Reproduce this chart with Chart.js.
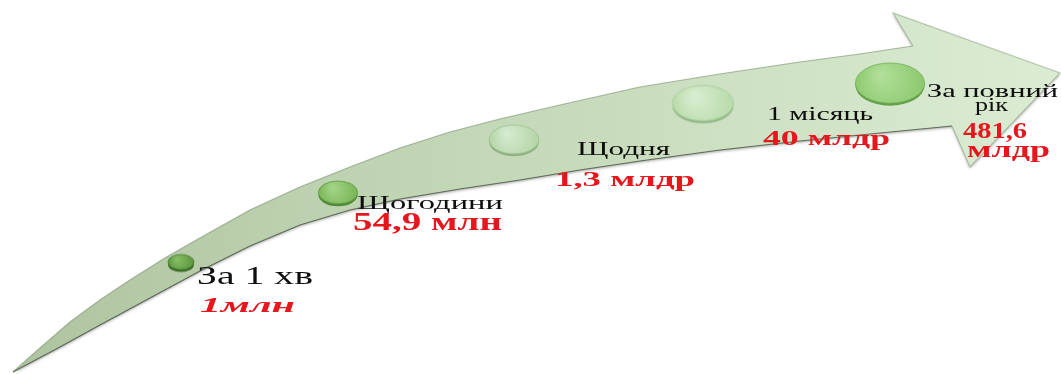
<!DOCTYPE html>
<html lang="uk">
<head>
<meta charset="utf-8">
<title>Обсяги</title>
<script src="https://cdn.jsdelivr.net/npm/chart.js@4.4.1/dist/chart.umd.min.js"></script>
<style>
  html, body { margin: 0; padding: 0; background: #fff; }
  #wrap { position: relative; width: 1061px; height: 374px; }
</style>
</head>
<body>
<div id="wrap"><canvas id="growthChart"></canvas></div>
<script>
// --- Data ---
const stepNames = ['За 1 хв', 'Щогодини', 'Щодня', '1 місяць', ['За повний', 'рік']];
const stepAmounts = ['1млн', '54,9 млн', '1,3 млдр', '40 млдр', ['481,6', 'млдр']];
const amountMln = [1, 54.9, 1300, 40000, 481600];
const stepX = [181, 338, 514, 703, 890];
const stepY = [264, 194, 141, 105, 85];

// arrow outline in chart units (x 0..1061, y 0..374 counted from the top)
const arrowUpper = [[13,372],[40,348],[70,322],[100,300],[130,280],[165,258],[200,238],[250,210],[300,187],[350,167],[400,148],[450,132],[500,119],[560,105],[640,87],[720,74],[800,62],[860,54],[913,46]];
const arrowHead = [[893,13],[1060,73],[970,167]];
const arrowLower = [[952,126],[880,133],[800,141],[720,150],[640,161],[580,170],[520,180],[460,189],[400,199],[350,210],[300,225],[250,246],[200,271],[150,298],[100,325],[60,347],[13,372]];

// --- Styles ---
// text placement relative to each disc: [dx, dy(baseline), width] per line
const nameLayout = [[[16,20,116]], [[19,15,146]], [[63,14,93]], [[64,15,106]], [[37,12,131],[85,26,33]]];
const amountLayout = [[[19,48,95]], [[15,36,149]], [[41,45,140]], [[60,40,127]], [[73,53,64],[77,72,83]]];
const nameFonts = ['25px "Liberation Serif"', '18px "Liberation Serif"', '18px "Liberation Serif"', '18px "Liberation Serif"', '19px "Liberation Serif"'];
const amountFonts = ['italic bold 22px "Liberation Serif"', 'bold 25px "Liberation Serif"', 'bold 22px "Liberation Serif"', 'bold 21px "Liberation Serif"', 'bold 23px "Liberation Serif"'];
const discColors = [
    { face: '#5a963c', light: '#86bd66', rim: '#3a6a26', edge: '#4a7f30' },
    { face: '#78b456', light: '#a3d486', rim: '#4f8a38', edge: '#629c45' },
    { face: '#b4d4a6', light: '#d6ead0', rim: '#8fb281', edge: '#9fc292' },
    { face: '#b8daa9', light: '#d9eed2', rim: '#90b884', edge: '#a3c897' },
    { face: '#8cc86e', light: '#b2e09a', rim: '#62a04a', edge: '#74b05a' }
];

// disc radius grows with the logarithm of the amount
function discRadius(v) {
    return 13 + 3.8 * Math.log10(v);
}

function makeDisc(rx, ry, c) {
    const pad = 4;
    const cv = document.createElement('canvas');
    cv.width = Math.ceil(rx * 2 + pad * 2);
    cv.height = Math.ceil(ry * 2 + pad * 2 + 3);
    const g = cv.getContext('2d');
    const cx = cv.width / 2, cy = pad + ry;
    // thickness of the disc
    g.fillStyle = c.rim;
    g.beginPath(); g.ellipse(cx, cy + 2.5, rx, ry, 0, 0, Math.PI * 2); g.fill();
    // top face
    const grad = g.createRadialGradient(cx - rx * 0.3, cy - ry * 0.45, 1, cx, cy, rx);
    grad.addColorStop(0, c.light);
    grad.addColorStop(1, c.face);
    g.fillStyle = grad;
    g.beginPath(); g.ellipse(cx, cy, rx, ry, 0, 0, Math.PI * 2); g.fill();
    g.strokeStyle = c.edge; g.lineWidth = 0.8; g.stroke();
    return cv;
}

const discs = amountMln.map((v, i) => {
    const rx = discRadius(v);
    return makeDisc(rx, rx * 0.58, discColors[i]);
});

// --- Plugins ---
const arrowFill = {
    id: 'arrowFill',
    beforeDatasetsDraw(chart) {
        const pts = chart.getDatasetMeta(0).data;
        const { ctx, chartArea } = chart;
        const grad = ctx.createLinearGradient(chartArea.left, 0, chartArea.right, 0);
        grad.addColorStop(0, '#aec4a0');
        grad.addColorStop(0.45, '#c3d8b7');
        grad.addColorStop(1, '#dbecd3');
        ctx.save();
        ctx.beginPath();
        pts.forEach((p, i) => i ? ctx.lineTo(p.x, p.y) : ctx.moveTo(p.x, p.y));
        ctx.closePath();
        ctx.shadowColor = 'rgba(60,70,55,0.45)';
        ctx.shadowBlur = 3;
        ctx.shadowOffsetY = 1.5;
        ctx.fillStyle = grad;
        ctx.fill();
        ctx.restore();
    }
};

function drawLines(ctx, pt, text, layout, font, color) {
    const lines = Array.isArray(text) ? text : [text];
    ctx.save();
    ctx.font = font;
    ctx.fillStyle = color;
    ctx.textAlign = 'left';
    ctx.textBaseline = 'alphabetic';
    lines.forEach((line, k) => {
        const [dx, dy, w] = layout[k];
        const sx = w / ctx.measureText(line).width;
        ctx.save();
        ctx.translate(pt.x + dx, pt.y + dy);
        ctx.scale(sx, 1);
        ctx.fillText(line, 0, 0);
        ctx.restore();
    });
    ctx.restore();
}

const stepLabels = {
    id: 'stepLabels',
    afterDatasetsDraw(chart) {
        const ctx = chart.ctx;
        chart.getDatasetMeta(1).data.forEach((pt, i) => {
            drawLines(ctx, pt, stepNames[i], nameLayout[i], nameFonts[i], '#0e0e0e');
            drawLines(ctx, pt, stepAmounts[i], amountLayout[i], amountFonts[i], '#e5161c');
        });
    }
};

// --- Chart ---
const outline = arrowUpper.concat(arrowHead, arrowLower).map(([x, y]) => ({ x, y }));
const upperEnd = arrowUpper.length - 1;
const lowerStart = arrowUpper.length + arrowHead.length;

new Chart(document.getElementById('growthChart'), {
    type: 'scatter',
    data: {
        datasets: [{
            label: 'arrow',
            data: outline,
            showLine: true,
            tension: 0,
            pointRadius: 0,
            borderWidth: 1.2,
            borderColor: 'rgba(120,135,112,0.8)',
            segment: {
                borderColor: c => c.p0DataIndex < upperEnd ? 'rgba(140,158,130,0.7)'
                    : c.p0DataIndex >= lowerStart ? 'rgba(85,95,80,0.9)' : 'rgba(150,170,140,0.6)'
            },
            clip: false,
            order: 2
        }, {
            label: 'steps',
            data: stepX.map((x, i) => ({ x, y: stepY[i] })),
            pointStyle: discs,
            pointRadius: amountMln.map(discRadius),
            clip: false,
            order: 1
        }]
    },
    options: {
        responsive: true,
        maintainAspectRatio: false,
        animation: false,
        layout: { padding: 0, autoPadding: false },
        plugins: {
            legend: { display: false },
            tooltip: { enabled: false }
        },
        scales: {
            x: { type: 'linear', min: 0, max: 1061, display: false },
            y: { type: 'linear', min: 0, max: 374, reverse: true, display: false }
        }
    },
    plugins: [arrowFill, stepLabels]
});
</script>
</body>
</html>
